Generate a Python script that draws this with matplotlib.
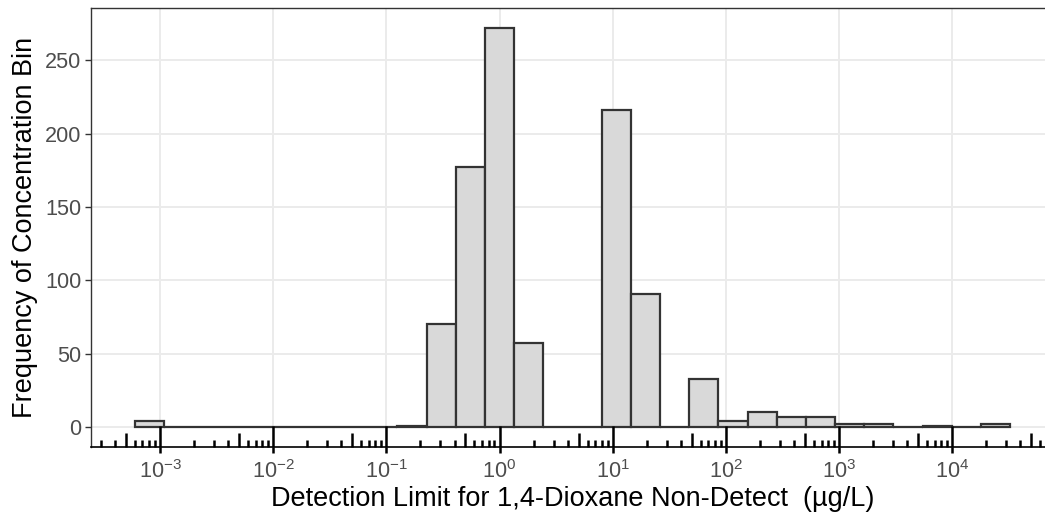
import numpy as np
import matplotlib.pyplot as plt
from matplotlib.transforms import blended_transform_factory

# histogram of log10(detection limit), 30 bins (ggplot style)
log_min = -3.094
log_max = 4.383
n_bins = 30
counts = [4, 0, 0, 0, 0, 0, 0, 0, 0, 1, 70, 177, 272, 57, 0, 0,
          216, 91, 0, 33, 4, 10, 7, 7, 2, 2, 0, 1, 0, 2]

y_ticks = [0, 50, 100, 150, 200, 250]
x_decades = [-3, -2, -1, 0, 1, 2, 3, 4]

plt.rcParams['font.family'] = ['Liberation Sans', 'DejaVu Sans']
plt.rcParams['mathtext.fontset'] = 'custom'
plt.rcParams['mathtext.rm'] = 'Liberation Sans'
plt.rcParams['mathtext.it'] = 'Liberation Sans'


def main():
    fig = plt.figure(figsize=(10.45, 5.2), dpi=100)
    ax = fig.add_axes([0.0871, 0.1404, 0.9215, 0.8442])

    w = (log_max - log_min) / (n_bins - 1)
    edges = np.linspace(log_min - w / 2, log_max + w / 2, n_bins + 1)
    left = 10 ** edges[:-1]
    right = 10 ** edges[1:]

    ax.set_xscale('log')
    ax.bar(left, counts, width=right - left, align='edge', color='#D9D9D9',
           edgecolor='#333333', linewidth=1.6, zorder=3)

    xr = edges[-1] - edges[0]
    ax.set_xlim(10 ** (edges[0] - 0.05 * xr), 10 ** (edges[-1] + 0.05 * xr))
    ymax = max(counts)
    ax.set_ylim(-0.05 * ymax, ymax * 1.05)

    # grid
    ax.set_yticks(y_ticks)
    ax.set_xticks([10.0 ** d for d in x_decades])
    ax.set_xticklabels([r'$10^{%d}$' % d for d in x_decades])
    ax.minorticks_off()
    ax.grid(True, color='#EBEBEB', linewidth=1.4, zorder=0)
    ax.set_axisbelow(True)

    # log ticks along bottom (annotation_logticks)
    trans = blended_transform_factory(ax.transData, ax.transAxes)
    lo, hi = ax.get_xlim()
    for d in range(int(np.floor(np.log10(lo))), int(np.ceil(np.log10(hi))) + 1):
        for m in range(1, 10):
            x = m * 10.0 ** d
            if x < lo or x > hi:
                continue
            if m == 1:
                h = 0.048
            elif m == 5:
                h = 0.032
            else:
                h = 0.016
            ax.plot([x, x], [0, h], transform=trans, color='black',
                    linewidth=1.8, solid_capstyle='butt', zorder=4,
                    clip_on=False)

    for s in ['top', 'left']:
        ax.spines[s].set_color('#333333')
        ax.spines[s].set_linewidth(1.0)
    ax.spines['bottom'].set_color('black')
    ax.spines['bottom'].set_linewidth(1.2)
    ax.spines['right'].set_visible(False)

    ax.tick_params(axis='x', direction='out', length=4.5, width=1.8,
                   color='black', labelsize=15.6, labelcolor='#4D4D4D', pad=5)
    ax.tick_params(axis='y', direction='out', length=4, width=1.0,
                   color='#333333', labelsize=15.6, labelcolor='#4D4D4D', pad=3)

    ax.set_xlabel('Detection Limit for 1,4-Dioxane Non-Detect  (\u00b5g/L)',
                  fontsize=19.5, color='black', labelpad=2)
    ax.set_ylabel('Frequency of Concentration Bin', fontsize=19.5,
                  color='black', labelpad=5)

    fig.savefig('out.png', dpi=100)


if __name__ == "__main__":
    main()
